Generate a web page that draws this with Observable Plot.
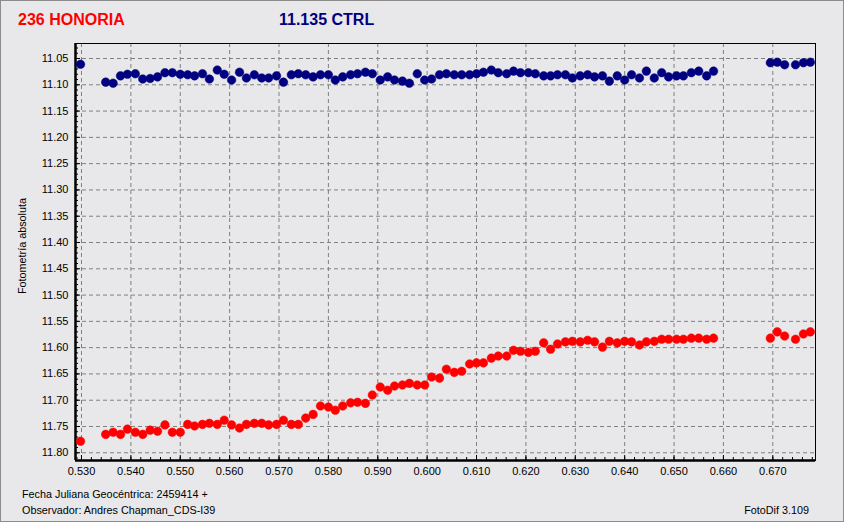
<!DOCTYPE html>
<html><head><meta charset="utf-8">
<script src="https://cdn.jsdelivr.net/npm/d3@7"></script>
<script src="https://cdn.jsdelivr.net/npm/@observablehq/plot@0.6"></script>
<style>
html,body{margin:0;padding:0;background:#e8e8ea;}
#wrap{position:relative;width:844px;height:522px;background:#e8e8ea;overflow:hidden;font-family:"Liberation Sans",Arial,sans-serif;}
#chart{position:absolute;left:0;top:0;}
#border{position:absolute;left:0;top:0;width:844px;height:522px;box-sizing:border-box;border:1px solid #8c8c8c;pointer-events:none;}
.t{position:absolute;white-space:nowrap;line-height:1;}
.f{font-size:10.8px;color:#000;}
</style></head><body>
<div id="wrap">
<div id="chart"></div>
<div class="t" style="left:18px;top:12px;font-weight:bold;font-size:16px;color:#ff0000">236 HONORIA</div>
<div class="t" style="left:279px;top:12px;font-weight:bold;font-size:16px;color:#000080">11.135 CTRL</div>
<div class="t f" style="left:22px;top:246px;transform:translate(-50%,-50%) rotate(-90deg)">Fotometría absoluta</div>
<div class="t f" style="left:22px;top:489px">Fecha Juliana Geocéntrica: 2459414 +</div>
<div class="t f" style="left:22px;top:505px">Observador: Andres Chapman_CDS-I39</div>
<div class="t f" style="right:35px;top:505px">FotoDif 3.109</div>
<div id="border"></div>
</div>
<script>
// Julian date fraction (JD - 2459414)
const jd = [
0.5298,0.5349,0.5364,0.5379,0.5393,0.5409,0.5424,0.5439,0.5454,0.5469,
0.5484,0.5500,0.5515,0.5529,0.5545,0.5559,0.5575,0.5589,0.5604,0.5620,
0.5634,0.5650,0.5665,0.5679,0.5695,0.5709,0.5725,0.5739,0.5754,0.5769,
0.5784,0.5800,0.5814,0.5829,0.5845,0.5859,0.5875,0.5889,0.5905,0.5920,
0.5934,0.5950,0.5964,0.5980,0.5995,0.6009,0.6025,0.6039,0.6055,0.6070,
0.6086,0.6100,0.6114,0.6130,0.6144,0.6161,0.6175,0.6189,0.6205,0.6219,
0.6236,0.6250,0.6264,0.6280,0.6294,0.6310,0.6325,0.6339,0.6355,0.6369,
0.6385,0.6400,0.6414,0.6430,0.6444,0.6460,0.6475,0.6489,0.6505,0.6519,
0.6535,0.6550,0.6566,0.6580,0.6695,0.6709,0.6724,0.6746,0.6762,0.6776];

// 236 Honoria magnitudes
const honoria = [
11.778,11.765,11.761,11.765,11.755,11.761,11.765,11.757,11.759,11.747,
11.761,11.761,11.746,11.749,11.746,11.744,11.746,11.738,11.747,11.753,
11.746,11.744,11.744,11.747,11.746,11.738,11.746,11.746,11.734,11.727,
11.711,11.713,11.719,11.711,11.705,11.704,11.706,11.690,11.675,11.681,
11.673,11.671,11.668,11.671,11.671,11.656,11.658,11.641,11.647,11.645,
11.631,11.629,11.629,11.620,11.616,11.616,11.605,11.607,11.609,11.607,
11.591,11.603,11.593,11.589,11.588,11.589,11.586,11.589,11.599,11.588,
11.591,11.588,11.589,11.595,11.589,11.588,11.584,11.584,11.584,11.584,
11.582,11.582,11.584,11.582,11.582,11.570,11.578,11.584,11.574,11.570];

// Comparison star (CTRL) magnitudes
const ctrl = [
11.061,11.095,11.097,11.083,11.080,11.079,11.089,11.088,11.085,11.077,
11.077,11.080,11.081,11.083,11.079,11.089,11.072,11.080,11.091,11.076,
11.087,11.081,11.087,11.087,11.083,11.095,11.081,11.079,11.081,11.085,
11.081,11.081,11.091,11.085,11.081,11.079,11.076,11.079,11.091,11.085,
11.091,11.093,11.097,11.079,11.091,11.089,11.081,11.079,11.081,11.081,
11.081,11.079,11.076,11.072,11.077,11.079,11.074,11.077,11.077,11.079,
11.083,11.083,11.081,11.081,11.087,11.083,11.081,11.085,11.083,11.093,
11.083,11.091,11.081,11.087,11.074,11.087,11.077,11.085,11.083,11.083,
11.077,11.074,11.083,11.074,11.058,11.057,11.062,11.062,11.058,11.057];

const xTickValues = [0.530,0.540,0.550,0.560,0.570,0.580,0.590,0.600,0.610,0.620,0.630,0.640,0.650,0.660,0.670];
const yTickValues = [11.05,11.10,11.15,11.20,11.25,11.30,11.35,11.40,11.45,11.50,11.55,11.60,11.65,11.70,11.75,11.80];

const xDomain = [0.528785, 0.678647];
const yDomain = [11.02145, 11.8147];

const data = jd.map((x, i) => ({x, honoria: honoria[i], ctrl: ctrl[i]}));
const minorX = d3.range(265, 340).map(k => k * 0.002);
const minorY = d3.range(1103, 1182).map(k => k * 0.01);

const grid = {stroke: "#808080", strokeOpacity: 1, strokeWidth: 1, strokeDasharray: "4,3"};

const plot = Plot.plot({
  width: 844, height: 522,
  marginLeft: 75, marginRight: 29, marginTop: 43, marginBottom: 62,
  style: {background: "transparent", fontFamily: "Liberation Sans, Arial, sans-serif", fontSize: "11px", color: "#000", overflow: "visible"},
  x: {domain: xDomain, label: null},
  y: {domain: yDomain, reverse: true, label: null},
  marks: [
    Plot.gridX(xTickValues, grid),
    Plot.gridY(yTickValues, grid),
    // inward ticks
    Plot.axisX(minorX, {tickSize: -3, tickFormat: () => "", label: null}),
    Plot.axisX(xTickValues, {tickSize: -5, tickFormat: () => "", label: null}),
    Plot.axisY(minorY, {tickSize: -3, tickFormat: () => "", label: null}),
    Plot.axisY(yTickValues, {tickSize: -5, tickFormat: () => "", label: null}),
    // labels
    Plot.axisX(xTickValues, {tickSize: 0, tickPadding: 7, tickFormat: d3.format(".3f"), label: null}),
    Plot.axisY(yTickValues, {tickSize: 0, tickPadding: 7, tickFormat: d3.format(".2f"), label: null}),
    Plot.frame({stroke: "#000"}),
    Plot.ruleX([xDomain[0]], {stroke: "#000", strokeWidth: 2.5}),
    Plot.ruleY([yDomain[1]], {stroke: "#000", strokeWidth: 2.5}),
    Plot.dot(data, {x: "x", y: "ctrl", r: 4.3, fill: "#000080", stroke: "#000080", strokeWidth: 0.5}),
    Plot.dot(data, {x: "x", y: "honoria", r: 4.3, fill: "#ff0000", stroke: "#ff0000", strokeWidth: 0.5})
  ]
});
document.getElementById("chart").appendChild(plot);
</script>
</body></html>
